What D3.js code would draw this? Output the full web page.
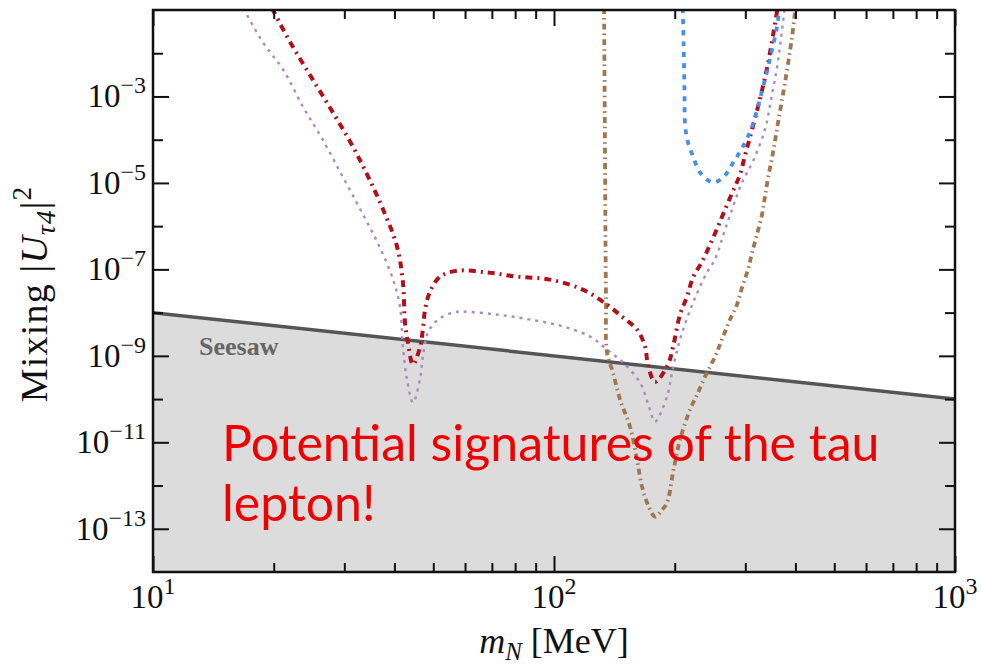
<!DOCTYPE html>
<html>
<head>
<meta charset="utf-8">
<script src="https://cdn.jsdelivr.net/npm/d3@7"></script>
<style>
  body { margin: 0; background: #fff; }
  svg { display: block; }
</style>
</head>
<body>
<div id="chart"></div>
<script>
// values (mass in MeV, mixing |U|^2)
const xTicksMajor = [10, 100, 1000];
const xTickExp = ["1", "2", "3"];
const xTicksMinor = [20, 30, 40, 50, 60, 70, 80, 90, 200, 300, 400, 500, 600, 700, 800, 900];
const yTicksMajor = [1e-13, 1e-11, 1e-9, 1e-7, 1e-5, 1e-3];
const yTickExp = ["\u221213", "\u221211", "\u22129", "\u22127", "\u22125", "\u22123"];
const yTicksMinor = [1e-12, 1e-10, 1e-8, 1e-6, 1e-4, 1e-2];

const seesaw = [[10, 1e-8], [1000, 1e-10]];

const redCurve = [[19.8,1.1e-1],[22.0,1.78e-2],[24.6,3.2e-3],[27.6,5.6e-4],[31.0,9.1e-5],[34.2,1.56e-5],
  [37.5,2.4e-6],[40.6,3.4e-7],[42.0,5.0e-8],[42.5,5.9e-9],[43.2,2.1e-9],[44.5,6.3e-10],[46.3,1.55e-9],
  [47.1,4.1e-9],[47.7,1.17e-8],[49.1,3.1e-8],[52.0,6.8e-8],[57.3,9.3e-8],[68.1,8.5e-8],[80.9,6.8e-8],
  [97.7,5.8e-8],[118,3.4e-8],[135.6,1.53e-8],[148.6,7.7e-9],[161,4.1e-9],[168.7,1.63e-9],[171.5,6.3e-10],
  [178.6,2.5e-10],[192.4,6.3e-10],[198.1,1.63e-9],[206.2,9.0e-9],[214.6,2.34e-8],[222.2,6.5e-8],
  [233.9,1.5e-7],[244.9,3.7e-7],[256.4,9.8e-7],[267,2.4e-6],[279,6.3e-6],[291,1.56e-5],[299,4.1e-5],
  [308,1.12e-4],[326,8.5e-4],[342,6.1e-3],[361,1.1e-1]];

const purpleCurve = [[16.8,1.1e-1],[18.8,1.78e-2],[21.1,4.2e-3],[23.7,5.6e-4],[26.5,1.0e-4],[29.8,1.33e-5],
  [33.4,1.86e-6],[36.8,3.2e-7],[39.7,5.8e-8],[41.3,1.38e-8],[42.0,1.63e-9],[43.0,2.8e-10],[44.5,8.3e-11],
  [46.3,2.8e-10],[47.1,9.5e-10],[48.5,3.5e-9],[51.4,6.9e-9],[56.0,1.0e-8],[59.3,1.05e-8],[72.1,9.0e-9],
  [87.1,6.9e-9],[105.3,4.8e-9],[123,2.8e-9],[135.6,1.4e-9],[148.6,7.0e-10],[163.9,2.4e-10],[173.5,5.7e-11],
  [178.6,3.0e-11],[191.4,1.15e-10],[196.9,4.1e-10],[206.2,2.4e-9],[222.2,1.7e-8],[240.7,8.5e-8],
  [252,1.7e-7],[267,8.3e-7],[279.4,2.8e-6],[294.4,1.02e-5],[315,3.5e-5],[335.9,1.73e-4],[347.7,8.5e-4],
  [360,4.7e-3],[368,2.1e-2],[376,1.1e-1]];

const blueCurve = [[209.5,1.1e-1],[210.5,1.6e-2],[211.5,1.5e-3],[212.5,2.0e-4],[215.9,8.6e-5],[222.2,4.1e-5],
  [231.3,1.74e-5],[249.2,1.02e-5],[263.9,1.33e-5],[279.4,2.9e-5],[296,7.0e-5],[311.8,2.0e-4],[326,8.5e-4],
  [342,4.9e-3],[360,4.2e-2],[365,1.1e-1]];

const brownCurve = [[133.3,1.1e-1],[134.0,5.9e-5],[134.8,2.0e-8],[135.6,1.19e-9],[140.3,4.1e-10],[146.1,9.8e-11],
  [154.7,2.3e-11],[161,4.0e-12],[165.8,9.3e-13],[171.5,3.6e-13],[178.6,1.9e-13],[185.9,2.75e-13],
  [191.4,4.0e-13],[198.1,2.0e-12],[206.2,1.15e-11],[218.4,5.7e-11],[227.4,1.26e-10],[238,3.3e-10],
  [252,9.5e-10],[262.4,2.4e-9],[274.8,6.9e-9],[285.9,1.53e-8],[294.4,3.8e-8],[304.7,1.0e-7],[311.8,2.4e-7],
  [320.8,6.5e-7],[330.2,1.86e-6],[335.9,4.9e-6],[342,1.33e-5],[351.7,5.0e-5],[362,2.5e-4],[376.7,2.1e-3],
  [392.3,2.4e-2],[400,1.1e-1]];

const width = 981;
const height = 665;
const margin = {top: 10, right: 26, bottom: 93, left: 153};
const serif = "'Liberation Serif', 'Times New Roman', serif";

const x = d3.scaleLog().domain([10, 1000]).range([margin.left, width - margin.right]);
const y = d3.scaleLog().domain([1e-14, 1e-1]).range([height - margin.bottom, margin.top]);

const svg = d3.select("#chart").append("svg")
  .attr("width", width)
  .attr("height", height);

svg.append("clipPath").attr("id", "plot-clip")
  .append("rect")
  .attr("x", margin.left).attr("y", margin.top)
  .attr("width", width - margin.left - margin.right)
  .attr("height", height - margin.top - margin.bottom);

const plot = svg.append("g").attr("clip-path", "url(#plot-clip)");

// grey region under the seesaw line
plot.append("path")
  .datum(seesaw)
  .attr("fill", "#dcdcdc")
  .attr("d", d3.area().x(d => x(d[0])).y0(height - margin.bottom).y1(d => y(d[1])));

plot.append("path")
  .datum(seesaw)
  .attr("fill", "none")
  .attr("stroke", "#555")
  .attr("stroke-width", 3.5)
  .attr("d", d3.line().x(d => x(d[0])).y(d => y(d[1])));

svg.append("text")
  .attr("x", 199).attr("y", 355)
  .attr("font-family", serif).attr("font-weight", "bold").attr("font-size", 26)
  .attr("fill", "#666")
  .text("Seesaw");

// the four limit curves
const line = d3.line().x(d => x(d[0])).y(d => y(d[1])).curve(d3.curveCatmullRom.alpha(0.5));
const curves = [
  {data: purpleCurve, color: "#a68cc0", w: 2.4, dash: "3,5"},
  {data: brownCurve, color: "#a27650", w: 3.8, dash: "6,4,1.5,4"},
  {data: redCurve, color: "#b0101c", w: 4, dash: "7,5,2,5"},
  {data: blueCurve, color: "#4a8ee6", w: 3.8, dash: "5,6"}
];
curves.forEach(c => {
  plot.append("path")
    .datum(c.data)
    .attr("fill", "none")
    .attr("stroke", c.color)
    .attr("stroke-width", c.w)
    .attr("stroke-dasharray", c.dash)
    .attr("d", line);
});

// red annotation
const note = svg.append("text")
  .attr("font-family", "Lato, 'Open Sans', sans-serif")
  .attr("font-size", 50)
  .attr("fill", "#f00000");
note.append("tspan").attr("x", 222).attr("y", 461).text("Potential signatures of the tau");
note.append("tspan").attr("x", 222).attr("y", 521).text("lepton!");

// ticks on all four sides, pointing inward
function ticks(axis, vals, len, transform) {
  const g = svg.append("g")
    .attr("transform", transform)
    .call(axis.tickValues(vals).tickSize(-len).tickFormat(""));
  g.select(".domain").remove();
  g.selectAll("line").attr("stroke", "#111").attr("stroke-width", 2);
}
const bottomY = height - margin.bottom;
const rightX = width - margin.right;
ticks(d3.axisBottom(x), xTicksMajor, 16, `translate(0,${bottomY})`);
ticks(d3.axisBottom(x), xTicksMinor, 9, `translate(0,${bottomY})`);
ticks(d3.axisTop(x), xTicksMajor, 16, `translate(0,${margin.top})`);
ticks(d3.axisTop(x), xTicksMinor, 9, `translate(0,${margin.top})`);
ticks(d3.axisLeft(y), yTicksMajor, 16, `translate(${margin.left},0)`);
ticks(d3.axisLeft(y), yTicksMinor, 10, `translate(${margin.left},0)`);
ticks(d3.axisRight(y), yTicksMajor, 16, `translate(${rightX},0)`);
ticks(d3.axisRight(y), yTicksMinor, 10, `translate(${rightX},0)`);

svg.append("rect")
  .attr("x", margin.left).attr("y", margin.top)
  .attr("width", rightX - margin.left).attr("height", bottomY - margin.top)
  .attr("fill", "none").attr("stroke", "#111").attr("stroke-width", 2.5);

// tick labels as powers of ten
const xLab = svg.append("g").selectAll("text")
  .data(xTicksMajor)
  .join("text")
  .attr("x", d => x(d))
  .attr("y", bottomY + 36)
  .attr("text-anchor", "middle")
  .attr("font-family", serif).attr("font-size", 33).attr("fill", "#111");
xLab.append("tspan").text("10");
xLab.append("tspan").attr("dy", -14).attr("font-size", 24).text((d, i) => xTickExp[i]);

const yLab = svg.append("g").selectAll("text")
  .data(yTicksMajor)
  .join("text")
  .attr("x", margin.left - 7)
  .attr("y", d => y(d) + 11)
  .attr("text-anchor", "end")
  .attr("font-family", serif).attr("font-size", 33).attr("fill", "#111");
yLab.append("tspan").text("10");
yLab.append("tspan").attr("dy", -14).attr("font-size", 24).text((d, i) => yTickExp[i]);

// axis titles
const xTitle = svg.append("text")
  .attr("x", 554).attr("y", 653)
  .attr("text-anchor", "middle")
  .attr("font-family", serif).attr("font-size", 36).attr("fill", "#111");
xTitle.append("tspan").attr("font-style", "italic").text("m");
xTitle.append("tspan").attr("font-style", "italic").attr("font-size", 25).attr("dy", 7).text("N");
xTitle.append("tspan").attr("dy", -7).text(" [MeV]");

const yTitle = svg.append("text")
  .attr("transform", "translate(47,294) rotate(-90)")
  .attr("text-anchor", "middle")
  .attr("font-family", serif).attr("font-size", 38).attr("letter-spacing", 1.2).attr("fill", "#111");
yTitle.append("tspan").text("Mixing |");
yTitle.append("tspan").attr("font-style", "italic").text("U");
yTitle.append("tspan").attr("font-style", "italic").attr("font-size", 27).attr("dy", 8).text("\u03c44");
yTitle.append("tspan").attr("dy", -8).text("|");
yTitle.append("tspan").attr("font-size", 27).attr("dy", -16).text("2");
</script>
</body>
</html>
